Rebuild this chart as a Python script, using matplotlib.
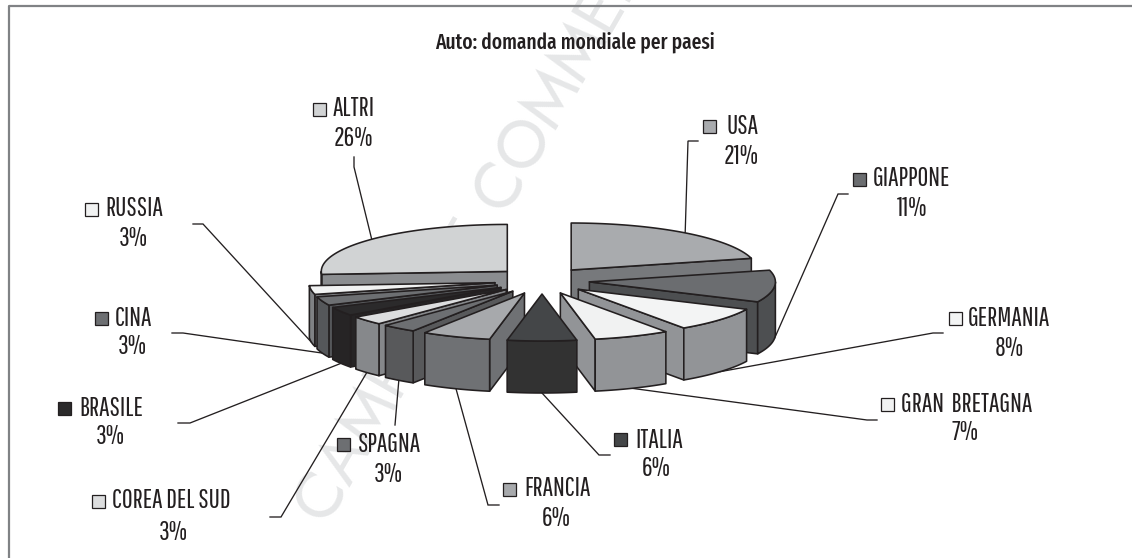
import matplotlib

matplotlib.use("Agg")

import matplotlib.pyplot as plt
import numpy as np
from matplotlib.patches import Polygon, Rectangle

TITLE = "Auto: domanda mondiale per paesi"
WATERMARK = "CAMPIONE COMMERCIALE"

countries = [
    "USA", "GIAPPONE", "GERMANIA", "GRAN  BRETAGNA", "ITALIA", "FRANCIA",
    "SPAGNA", "COREA DEL SUD", "BRASILE", "CINA", "RUSSIA", "ALTRI",
]
# labels are rounded, 8.4 and 6.6 fit the drawn slices better than 8 and 7
shares = [21, 11, 8.4, 6.6, 6, 6, 3, 3, 3, 3, 3, 26]

top_colors = [
    "#a9abae", "#6b6d70", "#f3f4f4", "#f1f2f2", "#444648", "#a7a9ac",
    "#6d6f72", "#dcddde", "#2b2a2b", "#6d6f72", "#f1f2f2", "#d1d3d4",
]
side_colors = [
    "#77797c", "#4d4f51", "#929497", "#929497", "#323232", "#6f7174",
    "#58595b", "#86888b", "#262425", "#55575a", "#7f8184", "#8b8d90",
]

# layout, in pixels of the 1132x558 picture
CX, CY = 542, 280.6
RX, RY = 186, 47
EX, EY = 47.6, 13.4
DEPTH = 52
INK = "#231f20"

LABEL_FONT = ["Pathway Gothic One", "Sofia Sans Extra Condensed", "Roboto Condensed", "Liberation Sans"]
TITLE_FONT = ["Fira Sans Extra Condensed", "Roboto Condensed", "Liberation Sans"]
WATERMARK_FONT = ["Jost", "Liberation Sans"]

# square left, square top, name left, name centre y, percent centre x, percent centre y
label_layout = [
    (703, 120, 726, 127, 741, 156),
    (853, 173, 873, 179, 912, 209),
    (949, 312, 968, 318, 1009, 348),
    (881, 398, 901, 404, 965, 433),
    (614, 433, 635, 440, 656, 469),
    (503, 483, 524, 489, 556, 518),
    (337, 438, 358, 445, 388, 474),
    (92, 495, 112, 501, 173, 532),
    (58, 402, 79, 408, 110, 437),
    (95, 312, 115, 318, 132, 347),
    (85, 203, 105, 209, 133, 238),
    (313, 103, 333, 109, 353, 139),
]
# free end and elbow of each leader line, the third point comes from the slice
leader_layout = [
    ((698, 141), (688, 141)),
    ((848, 194), (838, 194)),
    ((943, 333), (933, 333)),
    ((877, 420), (867, 420)),
    ((610, 455), (599, 455)),
    ((499, 505), (488, 505)),
    ((395, 425), (395, 425)),
    ((270, 517), (281, 517)),
    ((178, 423), (190, 423)),
    ((172, 333), (183, 333)),
    ((193, 224), (203, 224)),
    ((354, 157), (354, 167)),
]


def rim(apex, angles):
    angles = np.radians(angles)
    return np.column_stack(
        (apex[0] + RX * np.sin(angles), apex[1] - RY * np.cos(angles))
    )


def draw_slice(ax, start, end, top_color, side_color, zorder):
    mid = np.radians((start + end) / 2)
    apex = np.array([CX + EX * np.sin(mid), CY - EY * np.cos(mid)])
    drop = np.array([0, DEPTH])
    style = dict(edgecolor=INK, linewidth=1.15, joinstyle="round", zorder=zorder)

    # radial faces, only when they look towards the viewer
    if np.sin(np.radians(start)) < 0:
        p = rim(apex, [start])[0]
        ax.add_patch(Polygon([apex, p, p + drop, apex + drop], facecolor=side_color, **style))
    if np.sin(np.radians(end)) > 0:
        p = rim(apex, [end])[0]
        ax.add_patch(Polygon([apex, p, p + drop, apex + drop], facecolor=side_color, **style))

    # curved outer face, front half only
    a = max(start, 90)
    b = min(end, 270)
    if a < b:
        arc = rim(apex, np.linspace(a, b, 40))
        ax.add_patch(Polygon(np.vstack((arc, arc[::-1] + drop)), facecolor=side_color, **style))

    arc = rim(apex, np.linspace(start, end, 60))
    ax.add_patch(Polygon(np.vstack(([apex], arc)), facecolor=top_color, **style))


def leader_end(start, end):
    mid = (start + end) / 2
    rad = np.radians(mid)
    apex = (CX + EX * np.sin(rad), CY - EY * np.cos(rad))
    x, y = rim(apex, [mid])[0]
    if np.cos(rad) < 0:
        y += DEPTH
    return x, y


def main() -> None:
    fig = plt.figure(figsize=(11.32, 5.58), dpi=100)
    ax = fig.add_axes([0, 0, 1, 1])
    ax.set_xlim(0, 1132)
    ax.set_ylim(558, 0)
    ax.axis("off")

    ax.text(
        327, 527, WATERMARK,
        rotation=60, rotation_mode="anchor", ha="left", va="baseline",
        fontsize=48, color="#e6e7e8", family=WATERMARK_FONT, zorder=0,
    )

    # frame, open on the right and at the bottom
    ax.plot([9, 9, 1132], [558, 6, 6], color="#808285", linewidth=1.6, zorder=1)

    ax.text(575, 42, TITLE, ha="center", va="center", fontsize=15.2,
            family=TITLE_FONT, fontweight="medium", color=INK, zorder=5)

    bounds = np.concatenate(([0], np.cumsum(shares))) * 3.6
    starts = bounds[:-1]
    ends = bounds[1:]

    # back slices first so the front ones cover them
    mids = np.radians((starts + ends) / 2)
    for z, i in enumerate(np.argsort(-np.cos(mids))):
        draw_slice(ax, starts[i], ends[i], top_colors[i], side_colors[i], 3 + z * 0.01)

    for i, name in enumerate(countries):
        sq_x, sq_y, name_x, name_y, pct_x, pct_y = label_layout[i]
        ax.add_patch(Rectangle((sq_x, sq_y), 13, 13, facecolor=top_colors[i],
                               edgecolor=INK, linewidth=0.9, zorder=5))
        ax.text(name_x, name_y, name, ha="left", va="center", fontsize=19,
                family=LABEL_FONT, color=INK, zorder=5)
        ax.text(pct_x, pct_y, f"{round(shares[i])}%", ha="center", va="center",
                fontsize=19, family=LABEL_FONT, color=INK, zorder=5)

        first, elbow = leader_layout[i]
        last = leader_end(starts[i], ends[i])
        ax.plot([first[0], elbow[0], last[0]], [first[1], elbow[1], last[1]],
                color=INK, linewidth=0.95, solid_joinstyle="miter", zorder=2)

    fig.savefig("out.png", dpi=100)
    plt.close(fig)


if __name__ == "__main__":
    main()
